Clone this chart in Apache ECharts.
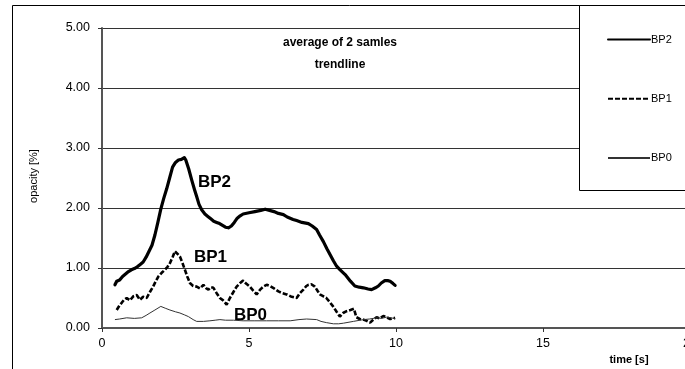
<!DOCTYPE html>
<html>
<head>
<meta charset="utf-8">
<script src="https://cdn.jsdelivr.net/npm/echarts@6/dist/echarts.min.js"></script>
<style>
  html, body { margin: 0; padding: 0; background: #fff; }
  #chart { width: 685px; height: 369px; }
</style>
</head>
<body>
<div id="chart"></div>
<script>
// Opacity [%] over time [s], averaged trendlines for three samples
var seriesNames = ['BP2', 'BP1', 'BP0'];

var bp2 = [
  [0.44,0.72],[0.5,0.78],[0.6,0.80],[0.7,0.86],[0.8,0.90],[0.9,0.94],[1.0,0.97],[1.1,0.99],
  [1.2,1.02],[1.3,1.06],[1.4,1.10],[1.5,1.18],[1.6,1.28],[1.7,1.38],[1.8,1.55],[1.9,1.76],
  [2.0,1.98],[2.1,2.16],[2.2,2.32],[2.3,2.50],[2.4,2.68],[2.5,2.76],[2.6,2.80],[2.7,2.81],
  [2.8,2.84],[2.85,2.80],[2.95,2.65],[3.05,2.47],[3.15,2.30],[3.22,2.19],[3.3,2.06],[3.39,1.97],
  [3.5,1.90],[3.6,1.86],[3.7,1.82],[3.8,1.78],[3.9,1.76],[4.0,1.74],[4.1,1.71],[4.2,1.68],
  [4.3,1.67],[4.4,1.70],[4.5,1.76],[4.6,1.83],[4.7,1.87],[4.8,1.90],[5.0,1.92],[5.2,1.94],
  [5.4,1.96],[5.55,1.98],[5.7,1.96],[5.85,1.94],[6.0,1.91],[6.17,1.89],[6.3,1.85],[6.5,1.81],
  [6.62,1.79],[6.8,1.76],[7.02,1.74],[7.15,1.70],[7.3,1.64],[7.4,1.55],[7.53,1.44],[7.65,1.32],
  [7.76,1.22],[7.87,1.12],[7.98,1.03],[8.1,0.97],[8.27,0.89],[8.45,0.78],[8.6,0.70],[8.75,0.68],
  [8.89,0.67],[9.05,0.65],[9.17,0.64],[9.3,0.67],[9.4,0.70],[9.5,0.75],[9.62,0.79],[9.72,0.79],
  [9.8,0.78],[9.9,0.74],[9.97,0.71]
];

var bp1 = [
  [0.5,0.30],[0.6,0.38],[0.67,0.42],[0.75,0.47],[0.84,0.50],[0.95,0.46],[1.07,0.53],[1.18,0.55],
  [1.29,0.47],[1.4,0.52],[1.52,0.50],[1.63,0.60],[1.74,0.69],[1.83,0.78],[1.92,0.86],[2.03,0.92],
  [2.14,0.97],[2.23,1.02],[2.31,1.08],[2.4,1.18],[2.48,1.28],[2.56,1.24],[2.65,1.19],[2.74,1.08],
  [2.82,0.97],[2.9,0.86],[2.99,0.75],[3.1,0.70],[3.22,0.69],[3.33,0.66],[3.45,0.72],[3.55,0.66],
  [3.62,0.64],[3.7,0.68],[3.79,0.67],[3.9,0.58],[4.01,0.50],[4.12,0.46],[4.24,0.39],[4.35,0.50],
  [4.47,0.60],[4.58,0.69],[4.7,0.75],[4.8,0.79],[4.9,0.74],[5.03,0.69],[5.15,0.62],[5.26,0.56],
  [5.38,0.64],[5.49,0.69],[5.6,0.72],[5.71,0.70],[5.85,0.66],[6.0,0.61],[6.14,0.58],[6.28,0.56],
  [6.45,0.52],[6.62,0.50],[6.73,0.58],[6.85,0.64],[6.95,0.70],[7.02,0.72],[7.12,0.73],[7.24,0.69],
  [7.33,0.62],[7.41,0.56],[7.52,0.53],[7.63,0.50],[7.75,0.43],[7.86,0.36],[7.98,0.27],[8.09,0.19],
  [8.2,0.25],[8.32,0.28],[8.45,0.30],[8.57,0.32],[8.65,0.18],[8.77,0.15],[8.89,0.14],[9.0,0.12],
  [9.12,0.09],[9.23,0.14],[9.34,0.18],[9.45,0.16],[9.57,0.20],[9.68,0.18],[9.8,0.15],[9.9,0.16],
  [9.97,0.17]
];

var bp0 = [
  [0.44,0.14],[0.6,0.15],[0.84,0.17],[1.1,0.16],[1.35,0.17],[1.5,0.21],[1.63,0.25],[1.8,0.30],
  [2.0,0.36],[2.15,0.33],[2.31,0.30],[2.5,0.27],[2.65,0.25],[2.8,0.22],[2.94,0.19],[3.1,0.14],
  [3.22,0.11],[3.45,0.11],[3.67,0.12],[3.85,0.13],[4.01,0.14],[4.2,0.13],[4.47,0.13],[4.8,0.12],
  [5.2,0.12],[5.6,0.12],[6.0,0.12],[6.4,0.12],[6.7,0.14],[6.96,0.15],[7.3,0.14],[7.45,0.11],
  [7.63,0.09],[7.87,0.07],[8.05,0.07],[8.21,0.08],[8.55,0.11],[8.89,0.14],[9.1,0.15],[9.34,0.17],
  [9.5,0.16],[9.68,0.18],[9.85,0.17],[9.97,0.15]
];

var titleLines = ['average of 2 samles', 'trendline'];
var xAxisTitle = 'time [s]';
var yAxisTitle = 'opacity [%]';

var FONT = '"Liberation Sans", Arial, Helvetica, sans-serif';
var chart = echarts.init(document.getElementById('chart'), null, { renderer: 'canvas' });

var option = {
  animation: false,
  backgroundColor: '#ffffff',
  grid: { left: 102, top: 28, width: 588, height: 300, containLabel: false, outerBoundsMode: 'none' },
  xAxis: {
    type: 'value', min: 0, max: 20, interval: 5,
    axisLine: { show: true, lineStyle: { color: '#555', width: 2 } },
    axisTick: { show: true, inside: false, length: 4, lineStyle: { color: '#333' } },
    axisLabel: { color: '#000', fontFamily: FONT, fontSize: 12.5, margin: 9 },
    splitLine: { show: false }
  },
  yAxis: {
    type: 'value', min: 0, max: 5, interval: 1,
    axisLine: { show: true, lineStyle: { color: '#555', width: 2 } },
    axisTick: { show: true, inside: false, length: 4, lineStyle: { color: '#333' } },
    axisLabel: {
      color: '#000', fontFamily: FONT, fontSize: 12.5, margin: 12,
      formatter: function (v) { return v.toFixed(2); }
    },
    splitLine: { show: true, lineStyle: { color: '#333', width: 1 } }
  },
  legend: {
    data: seriesNames,
    orient: 'vertical',
    left: 602, top: 29,
    itemWidth: 42, itemHeight: 14, itemGap: 48,
    itemStyle: { opacity: 0 },
    textStyle: { color: '#000', fontFamily: FONT, fontSize: 11, padding: [0, 0, 0, -4] },
    z: 5
  },
  series: [
    {
      name: 'BP2', type: 'line', data: bp2, symbol: 'none', showSymbol: false,
      lineStyle: { color: '#000', width: 3.2, cap: 'round', join: 'round' }, itemStyle: { color: '#000' }
    },
    {
      name: 'BP1', type: 'line', data: bp1, symbol: 'none', showSymbol: false,
      lineStyle: { color: '#000', width: 2.6, type: [5, 2] }, itemStyle: { color: '#000' }
    },
    {
      name: 'BP0', type: 'line', data: bp0, symbol: 'none', showSymbol: false,
      lineStyle: { color: '#333', width: 1 }, itemStyle: { color: '#333' }
    }
  ],
  graphic: [
    // outer chart frame
    { type: 'rect', z: 1, silent: true,
      shape: { x: 12.5, y: 5.5, width: 720, height: 420 },
      style: { fill: 'none', stroke: '#000', lineWidth: 1 } },
    // legend frame
    { type: 'rect', z: 3, silent: true,
      shape: { x: 579.5, y: 5.5, width: 140, height: 185 },
      style: { fill: '#fff', stroke: '#000', lineWidth: 1 } },
    // chart title
    { type: 'text', z: 6, silent: true, x: 340, y: 32,
      style: { text: titleLines.join('\n'), fill: '#000', font: 'bold 12px ' + FONT,
               textAlign: 'center', textVerticalAlign: 'top', lineHeight: 22 } },
    // axis titles
    { type: 'text', z: 6, silent: true, x: 629, y: 360,
      style: { text: xAxisTitle, fill: '#000', font: 'bold 11px ' + FONT,
               textAlign: 'center', textVerticalAlign: 'middle' } },
    { type: 'text', z: 6, silent: true, x: 34, y: 176, rotation: Math.PI / 2,
      style: { text: yAxisTitle, fill: '#000', font: '11px ' + FONT,
               textAlign: 'center', textVerticalAlign: 'middle' } },
    // series labels
    { type: 'text', z: 6, silent: true, x: 198, y: 182,
      style: { text: 'BP2', fill: '#000', font: 'bold 17px ' + FONT, textVerticalAlign: 'middle' } },
    { type: 'text', z: 6, silent: true, x: 194, y: 257,
      style: { text: 'BP1', fill: '#000', font: 'bold 17px ' + FONT, textVerticalAlign: 'middle' } },
    { type: 'text', z: 6, silent: true, x: 234, y: 315,
      style: { text: 'BP0', fill: '#000', font: 'bold 17px ' + FONT, textVerticalAlign: 'middle' } }
  ]
};

chart.setOption(option);
</script>
</body>
</html>
